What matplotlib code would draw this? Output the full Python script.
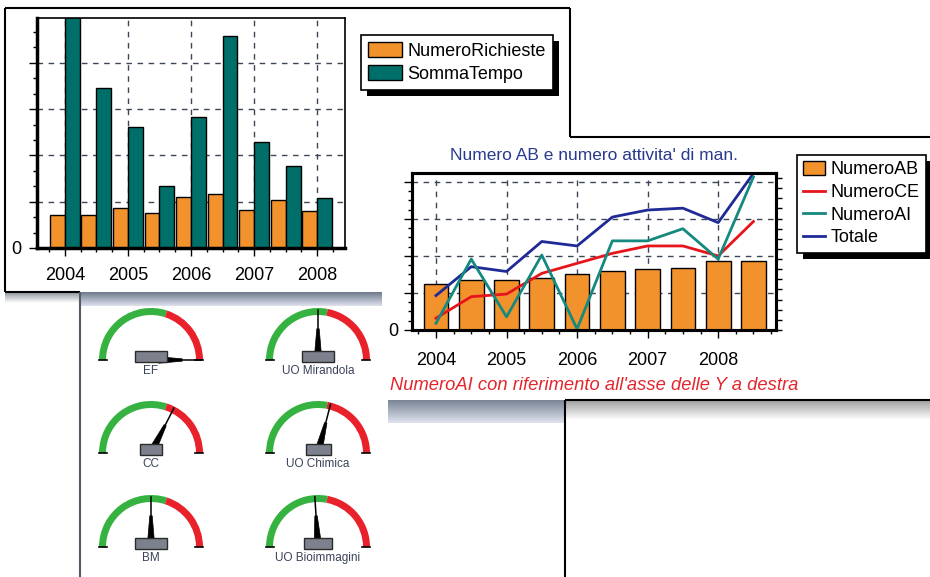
import numpy as np
import matplotlib.pyplot as plt
from matplotlib.patches import Rectangle, Wedge, Polygon
from matplotlib.colors import to_rgb
from matplotlib.ticker import MultipleLocator

plt.rcParams['font.family'] = ['Liberation Sans', 'DejaVu Sans']

W, H = 930, 577
PANEL = '#dfe2ed'

# --- chart 1: NumeroRichieste / SommaTempo (half-year steps)
pos1 = [2004, 2004.5, 2005, 2005.5, 2006, 2006.5, 2007, 2007.5, 2008]
numero_richieste = [0.72, 0.72, 0.86, 0.75, 1.10, 1.17, 0.83, 1.03, 0.79]
somma_tempo = [5.0, 3.46, 2.62, 1.33, 2.82, 4.59, 2.28, 1.78, 1.09]
years = [2004, 2005, 2006, 2007, 2008]

# --- chart 2: NumeroAB, NumeroCE, Totale (left axis), NumeroAI (right axis)
pos2 = [2004, 2004.5, 2005, 2005.5, 2006, 2006.5, 2007, 2007.5, 2008, 2008.5]
numero_ab = [1.24, 1.35, 1.35, 1.41, 1.50, 1.59, 1.64, 1.68, 1.87, 1.87]
numero_ce = [0.32, 0.90, 0.97, 1.53, 1.80, 2.07, 2.27, 2.27, 2.00, 2.93]
totale = [0.93, 1.71, 1.58, 2.39, 2.27, 3.05, 3.24, 3.29, 2.90, 4.23]
numero_ai = [0.66, 7.0, 1.3, 7.4, 0.1, 8.8, 8.8, 10.0, 7.0, 15.1]

# --- gauges (value 0..100, threshold where green turns red)
gauge_labels = ['EF', 'UO Mirandola', 'CC', 'UO Chimica', 'BM', 'UO Bioimmagini']
gauge_values = [100, 50, 65, 58, 50, 48]
gauge_limits = [60, 56, 60, 56, 60, 56]
gauge_box_w = [32, 32, 22, 25, 32, 28]


def vgrad(ax, x0, x1, y0, y1, c0, c1, z=1):
    a = np.linspace(0, 1, 60)[:, None, None]
    img = np.array(to_rgb(c0)) + (np.array(to_rgb(c1)) - np.array(to_rgb(c0))) * a
    ax.imshow(img, extent=(x0, x1, y1, y0), aspect='auto',
              interpolation='bilinear', zorder=z)


fig = plt.figure(figsize=(W / 100, H / 100), dpi=100)
fig.patch.set_facecolor('white')

# background "screenshot" panels in pixel coordinates
bg = fig.add_axes([0, 0, 1, 1])
bg.set_facecolor(PANEL)
for x0, y0, w, h in [(0, 0, W, 8), (0, 0, 5, 292), (0, 292, 80, H - 292),
                     (570, 0, W - 570, 137), (565, 400, W - 565, H - 400)]:
    bg.add_patch(Rectangle((x0, y0), w, h, fc='white', ec='none', zorder=0.5))

# shadows
vgrad(bg, 80, 381, 292, 306, '#6d7a8c', PANEL)
vgrad(bg, 5, 80, 292, 303, '#8e949c', '#ffffff')
vgrad(bg, 388, 565, 400, 423, '#7a8596', PANEL)
vgrad(bg, 566, W, 401, 420, '#a4a4a4', '#ffffff')

for xs, ys, c in [([5, 570], [8, 8], 'k'), ([5, 5], [8, 292], 'k'),
                  ([5, 80], [292, 292], 'k'), ([570, 570], [8, 137], 'k'),
                  ([570, W], [137, 137], 'k'), ([565, W], [400, 400], 'k'),
                  ([565, 565], [400, H], 'k'), ([80, 80], [292, H], '#555b66')]:
    bg.plot(xs, ys, color=c, lw=1.5, zorder=3, solid_capstyle='butt')

# gauges
centers = [(151, 360), (318, 360), (151, 453), (318, 453), (151, 547), (318, 547)]
R, RW = 52, 7
for (cx, cy), lab, val, lim, bw in zip(centers, gauge_labels, gauge_values,
                                       gauge_limits, gauge_box_w):
    t_lim = 180 - lim * 1.8
    bg.add_patch(Wedge((cx, cy), R, -180, -t_lim, width=RW, fc='#35b23f', ec='none', zorder=2))
    bg.add_patch(Wedge((cx, cy), R, -t_lim, 0, width=RW, fc='#e8212b', ec='none', zorder=2))
    bg.plot([cx - R, cx - R + RW + 1], [cy, cy], color='k', lw=1.2, zorder=3)
    bg.plot([cx + R - RW - 1, cx + R], [cy, cy], color='k', lw=1.2, zorder=3)
    th = np.radians(180 - val * 1.8)
    u = np.array([np.cos(th), -np.sin(th)])
    p = np.array([np.sin(th), np.cos(th)])
    c = np.array([cx, cy])
    tip = c + u * R * 0.97
    bg.plot([cx, tip[0]], [cy, tip[1]], color='k', lw=1.1, zorder=4)
    a, b = c + u * R * 0.15, c + u * R * 0.6
    bg.add_patch(Polygon([a + p * 3.2, b + p * 1.2, b - p * 1.2, a - p * 3.2],
                         fc='k', ec='k', lw=0.5, zorder=4))
    bg.add_patch(Rectangle((cx - bw / 2, cy - 9), bw, 11, fc='#7c818d',
                           ec='#2b2b2b', lw=1, zorder=5))
    bg.text(cx, cy + 11, lab, ha='center', va='center', fontsize=8.5,
            color='#3a4258', zorder=5)

bg.set_xlim(0, W)
bg.set_ylim(H, 0)
bg.axis('off')

# --- chart 1
ax1 = fig.add_axes([37 / W, 1 - 248 / H, 308 / W, 230 / H])
ax1.set_facecolor('none')
bw1 = 0.235
b1 = ax1.bar([p - bw1 / 2 for p in pos1], numero_richieste, width=bw1,
             color='#f2922c', edgecolor='black', lw=1, label='NumeroRichieste')
b2 = ax1.bar([p + bw1 / 2 for p in pos1], somma_tempo, width=bw1,
             color='#006e69', edgecolor='black', lw=1, label='SommaTempo')
ax1.set_xlim(2003.56, 2008.44)
ax1.set_ylim(0, 4.97)
ax1.set_xticks(years)
ax1.set_xticklabels([str(y) for y in years], fontsize=13)
ax1.set_yticks([0, 1, 2, 3, 4])
ax1.set_yticklabels(['0', '', '', '', ''], fontsize=13)
ax1.xaxis.set_minor_locator(MultipleLocator(0.25))
ax1.yaxis.set_minor_locator(MultipleLocator(1 / 3))
ax1.tick_params(which='major', length=6, width=1, pad=8)
ax1.tick_params(axis='y', which='major', pad=5)
ax1.tick_params(which='minor', length=3, width=1)
ax1.set_axisbelow(True)
ax1.grid(True, ls=(0, (4, 4)), color='#3c4656', lw=1)
for s in ['left', 'bottom']:
    ax1.spines[s].set_linewidth(2.5)
for s in ['top', 'right']:
    ax1.spines[s].set_linewidth(1.2)
leg1 = ax1.legend(loc='upper left', bbox_to_anchor=(361 / W, 1 - 35 / H),
                  bbox_transform=fig.transFigure, fancybox=False, framealpha=1,
                  edgecolor='black', borderaxespad=0, fontsize=13,
                  handlelength=1.85, handleheight=0.9, handletextpad=0.3,
                  borderpad=0.4, labelspacing=0.3)
leg1.get_frame().set_linewidth(1.2)

# --- chart 2
ax2 = fig.add_axes([412 / W, 1 - 330 / H, 364 / W, 157 / H])
ax2.set_facecolor('none')
bars_ab = ax2.bar(pos2, numero_ab, width=0.35, color='#f2922c',
                  edgecolor='black', lw=1, label='NumeroAB')
l_ce, = ax2.plot(pos2, numero_ce, color='#e8141c', lw=2, label='NumeroCE')
l_tot, = ax2.plot(pos2, totale, color='#1f2a96', lw=2, label='Totale')
ax2.set_xlim(2003.66, 2008.82)
ax2.set_ylim(0, 4.24)
ax2.set_xticks(years)
ax2.set_xticklabels([str(y) for y in years], fontsize=13)
ax2.set_yticks([0, 1, 2, 3, 4])
ax2.set_yticklabels(['0', '', '', '', ''], fontsize=13)
ax2.xaxis.set_minor_locator(MultipleLocator(0.25))
ax2.yaxis.set_minor_locator(MultipleLocator(0.25))
ax2.tick_params(which='major', length=6, width=1, pad=10)
ax2.tick_params(axis='y', which='major', pad=4)
ax2.tick_params(which='minor', length=3, width=1)
ax2.set_axisbelow(True)
ax2.grid(True, ls=(0, (4, 4)), color='#3c4656', lw=1)
ax2.set_title("Numero AB e numero attivita' di man.", fontsize=12.5,
              color='#283a8e', pad=9)

ax3 = ax2.twinx()
l_ai, = ax3.plot(pos2, numero_ai, color='#14897f', lw=2, label='NumeroAI')
ax3.set_ylim(0, 15.5)
ax3.yaxis.set_major_locator(MultipleLocator(1))
ax3.set_yticklabels([])
ax3.tick_params(axis='y', length=4, width=1)
for a in (ax2, ax3):
    for s in a.spines.values():
        s.set_linewidth(2.2)

leg2 = ax3.legend(handles=[bars_ab, l_ce, l_ai, l_tot],
                  labels=['NumeroAB', 'NumeroCE', 'NumeroAI', 'Totale'],
                  loc='upper left', bbox_to_anchor=(797 / W, 1 - 155 / H),
                  bbox_transform=fig.transFigure, fancybox=False, framealpha=1,
                  edgecolor='black', borderaxespad=0, fontsize=13,
                  handlelength=1.2, handleheight=0.8, handletextpad=0.3,
                  borderpad=0.35, labelspacing=0.3)
leg2.get_frame().set_linewidth(1.2)

fig.text(390 / W, 1 - 386 / H, "NumeroAI con riferimento all'asse delle Y a destra",
         ha='left', va='center', fontsize=13.2, style='italic', color='#e3262d')

# black drop shadows behind the legends
fig.canvas.draw()
for lg in (leg1, leg2):
    bb = lg.get_window_extent()
    bg.add_patch(Rectangle((bb.x0 + 6, H - bb.y1 + 6), bb.width, bb.height,
                           fc='black', ec='none', zorder=6))
bg.set_xlim(0, W)
bg.set_ylim(H, 0)

fig.savefig('out.png', dpi=100, facecolor='white')
